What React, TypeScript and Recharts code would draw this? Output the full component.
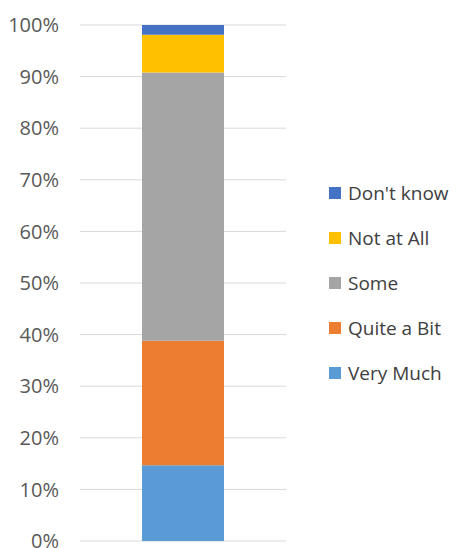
import { Bar, BarChart, CartesianGrid, Legend, XAxis, YAxis } from "recharts";

const categories = ["Response"];
const seriesNames = ["Very Much", "Quite a Bit", "Some", "Not at All", "Don't know"];
const seriesValues = [14.7, 24.1, 52.0, 7.3, 1.9];
const seriesColors = ["#5b9bd5", "#ed7d31", "#a5a5a5", "#ffc000", "#4472c4"];
const yTicks = [0, 10, 20, 30, 40, 50, 60, 70, 80, 90, 100];

const data = categories.map((name) => {
  const row: Record<string, string | number> = { name };
  seriesNames.forEach((s, i) => {
    row[s] = seriesValues[i];
  });
  return row;
});

const FONT = "'Open Sans', 'Liberation Sans', sans-serif";

function LegendBox() {
  // legend listed top-down in reverse stacking order, like the original
  const items = seriesNames.map((n, i) => ({ n, c: seriesColors[i] })).reverse();
  return (
    <div style={{ fontFamily: FONT, width: 130 }}>
      {items.map((it) => (
        <div
          key={it.n}
          style={{ display: "flex", alignItems: "center", height: 45, fontSize: 19, color: "#404040", whiteSpace: "nowrap" }}
        >
          <span style={{ width: 12, height: 12, background: it.c, marginRight: 7, display: "inline-block", flexShrink: 0 }} />
          <span>{it.n}</span>
        </div>
      ))}
    </div>
  );
}

export default function App() {
  return (
    <BarChart
      width={452}
      height={540}
      data={data}
      margin={{ top: 17, right: 44, bottom: 7, left: 0 }}
      style={{ fontFamily: FONT }}
    >
      <CartesianGrid vertical={false} stroke="#d9d9d9" />
      <XAxis dataKey="name" hide />
      <YAxis
        width={72}
        domain={[0, 100]}
        ticks={yTicks}
        axisLine={false}
        tickLine={false}
        tickSize={0}
        tickMargin={21}
        interval={0}
        tick={{ fill: "#595959", fontSize: 20 }}
        tickFormatter={(v) => `${v}%`}
      />
      <Legend
        content={<LegendBox />}
        layout="vertical"
        align="right"
        verticalAlign="middle"
        wrapperStyle={{ left: 321, top: 162, width: 130 }}
      />
      {seriesNames.map((s, i) => (
        <Bar key={s} dataKey={s} stackId="a" fill={seriesColors[i]} barSize={82} isAnimationActive={false} />
      ))}
    </BarChart>
  );
}
